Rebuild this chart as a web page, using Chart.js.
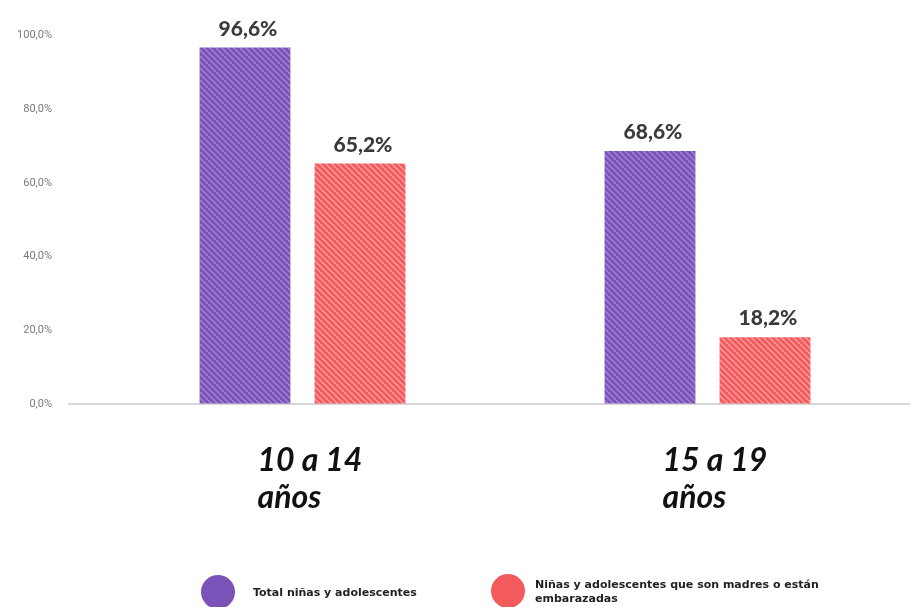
<!DOCTYPE html>
<html>
<head>
<meta charset="utf-8">
<script src="https://cdn.jsdelivr.net/npm/chart.js@4/dist/chart.umd.min.js"></script>
<style>
  html, body { margin: 0; padding: 0; background: #ffffff; }
  #wrap { width: 919px; height: 607px; position: relative; }
</style>
</head>
<body>
<div id="wrap"><canvas id="c" width="919" height="607"></canvas></div>
<script>
// ---- data ----
const categories = [["10 a 14", "años"], ["15 a 19", "años"]];
const seriesNames = ["Total niñas y adolescentes", "Niñas y adolescentes que son madres o están embarazadas"];
const legendLines = [["Total niñas y adolescentes"], ["Niñas y adolescentes que son madres o están", "embarazadas"]];
const totalValues = [96.6, 68.6];
const motherValues = [65.2, 18.2];
const yTicks = [0, 20, 40, 60, 80, 100];

const baseColors = ["#7b53b8", "#f25a5c"];
const stripeColors = ["#a083d3", "#f99a9b"];

function makePattern(base, stripe) {
  const s = 6;
  const pc = document.createElement('canvas');
  pc.width = s; pc.height = s;
  const p = pc.getContext('2d');
  p.fillStyle = base; p.fillRect(0, 0, s, s);
  p.strokeStyle = stripe; p.lineWidth = 1.5;
  p.beginPath();
  p.moveTo(-1, -1); p.lineTo(s + 1, s + 1);
  p.moveTo(-1 - s, -1); p.lineTo(1, s + 1);
  p.moveTo(s - 1, -1); p.lineTo(2 * s + 1, s + 1);
  p.stroke();
  return document.getElementById('c').getContext('2d').createPattern(pc, 'repeat');
}

function fmt(v) { return v.toFixed(1).replace('.', ',') + '%'; }

const valueLabels = {
  id: 'valueLabels',
  afterDatasetsDraw(chart) {
    const ctx = chart.ctx;
    ctx.save();
    ctx.font = '900 21px Lato, "Open Sans", sans-serif';
    ctx.fillStyle = '#3b3b3b';
    ctx.textAlign = 'center';
    ctx.textBaseline = 'alphabetic';
    chart.data.datasets.forEach((ds, di) => {
      const meta = chart.getDatasetMeta(di);
      meta.data.forEach((bar, i) => {
        ctx.fillText(fmt(ds.data[i]), bar.x + 3, bar.y - 12);
      });
    });
    ctx.restore();
  }
};

const customLegend = {
  id: 'customLegend',
  afterDraw(chart) {
    const ctx = chart.ctx;
    const items = [
      { cx: 218, cy: 592, tx: 253, ty: [593] },
      { cx: 508, cy: 591, tx: 535, ty: [585, 599] }
    ];
    ctx.save();
    items.forEach((it, i) => {
      ctx.beginPath();
      ctx.fillStyle = baseColors[i];
      ctx.arc(it.cx, it.cy, 17, 0, Math.PI * 2);
      ctx.fill();
      ctx.fillStyle = '#222222';
      ctx.font = 'bold 11px "DejaVu Sans", sans-serif';
      ctx.textAlign = 'left';
      ctx.textBaseline = 'middle';
      legendLines[i].forEach((line, li) => ctx.fillText(line, it.tx, it.ty[li]));
    });
    ctx.restore();
  }
};

new Chart(document.getElementById('c'), {
  type: 'bar',
  data: {
    labels: categories,
    datasets: [
      { label: seriesNames[0], data: totalValues, backgroundColor: makePattern(baseColors[0], stripeColors[0]) },
      { label: seriesNames[1], data: motherValues, backgroundColor: makePattern(baseColors[1], stripeColors[1]) }
    ]
  },
  options: {
    responsive: false,
    animation: false,
    devicePixelRatio: 1,
    categoryPercentage: 0.568,
    barPercentage: 0.79,
    layout: { padding: { top: 35, left: 12, right: 9, bottom: 61 } },
    plugins: {
      legend: { display: false },
      tooltip: { enabled: false }
    },
    scales: {
      x: {
        grid: { display: false },
        border: { display: false },
        ticks: {
          align: 'start',
          labelOffset: -45,
          padding: 30,
          color: '#111111',
          font: { family: 'Lato, "Open Sans", sans-serif', size: 32, weight: 'bold', style: 'italic', lineHeight: 1.15 }
        }
      },
      y: {
        min: 0, max: 100,
        afterBuildTicks(scale) { scale.ticks = yTicks.map(v => ({ value: v })); },
        afterFit(scale) { scale.width = 88; },
        border: { display: false },
        grid: {
          color: c => (c.tick && c.tick.value === 0) ? '#d6d6d6' : 'rgba(0,0,0,0)',
          lineWidth: 2,
          drawTicks: true,
          tickLength: 32
        },
        ticks: {
          padding: 16,
          color: '#7a7a7a',
          font: { family: 'Roboto, sans-serif', size: 11 },
          callback: v => v.toFixed(1).replace('.', ',') + '%'
        }
      }
    }
  },
  plugins: [valueLabels, customLegend]
});
</script>
</body>
</html>
